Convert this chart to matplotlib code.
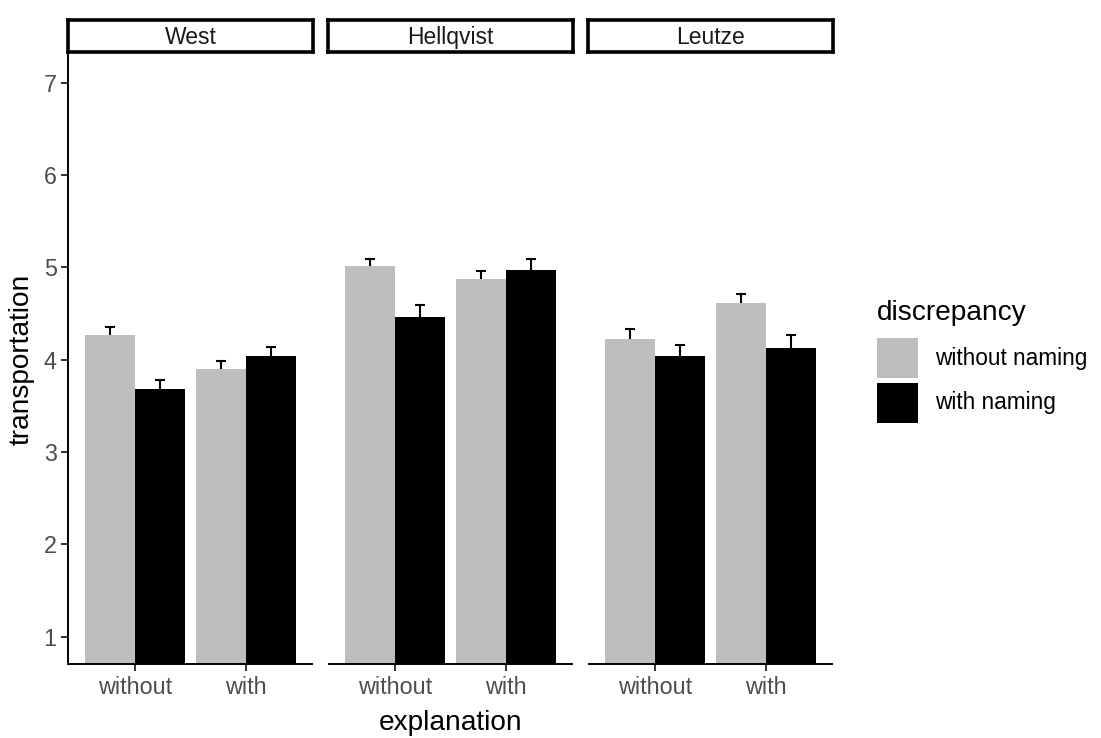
import matplotlib
matplotlib.use("Agg")
import matplotlib.pyplot as plt
from matplotlib.patches import Rectangle
import numpy as np

plt.rcParams['font.family'] = ['Liberation Sans', 'DejaVu Sans']

# ---- data ----
panels = ["West", "Hellqvist", "Leutze"]
explanation = ["without", "with"]
discrepancy = ["without naming", "with naming"]
fill_colors = ["#BEBEBE", "#000000"]

west_mean_without_naming = [4.27, 3.90]
west_mean_with_naming = [3.68, 4.04]
hellqvist_mean_without_naming = [5.02, 4.87]
hellqvist_mean_with_naming = [4.46, 4.97]
leutze_mean_without_naming = [4.23, 4.61]
leutze_mean_with_naming = [4.04, 4.13]

west_se_without_naming = [0.08, 0.09]
west_se_with_naming = [0.10, 0.10]
hellqvist_se_without_naming = [0.07, 0.09]
hellqvist_se_with_naming = [0.13, 0.12]
leutze_se_without_naming = [0.10, 0.10]
leutze_se_with_naming = [0.12, 0.14]

y_ticks = [1, 2, 3, 4, 5, 6, 7]

means = [
    [west_mean_without_naming, west_mean_with_naming],
    [hellqvist_mean_without_naming, hellqvist_mean_with_naming],
    [leutze_mean_without_naming, leutze_mean_with_naming],
]
ses = [
    [west_se_without_naming, west_se_with_naming],
    [hellqvist_se_without_naming, hellqvist_se_with_naming],
    [leutze_se_without_naming, leutze_se_with_naming],
]

# ---- layout helpers (pixel coords) ----
W, H = 1101, 738
fig = plt.figure(figsize=(W / 100, H / 100), dpi=100)


def fx(px):
    return px / W


def fy(py):
    return 1 - py / H


panel_lefts = [68, 328, 588]
panel_w = 245
panel_top = 55.3
panel_bot = 664.2
strip_top = 20
strip_bot = 52

tick_color = "#4D4D4D"
axis_lw = 1.4
tick_fs = 16.8
legend_fs = 16.3
title_fs = 20.2

bar_w = 0.45
cap_half = 0.045
x = np.arange(1, len(explanation) + 1)

for i, name in enumerate(panels):
    left = panel_lefts[i]
    ax = fig.add_axes([fx(left), fy(panel_bot), panel_w / W, (panel_bot - panel_top) / H])
    for j, disc in enumerate(discrepancy):
        xpos = x + (j - 0.5) * bar_w
        m = np.array(means[i][j])
        s = np.array(ses[i][j])
        ax.bar(xpos, m, width=bar_w, color=fill_colors[j], edgecolor='none', zorder=2)
        ax.vlines(xpos, m, m + s, color='black', lw=1.5, zorder=3)
        ax.hlines(m + s, xpos - cap_half, xpos + cap_half, color='black', lw=1.5, zorder=3)
    ax.set_xlim(0.4, 2.6)
    ax.set_ylim(0.7, 7.3)
    ax.set_xticks(x)
    ax.set_xticklabels(explanation)
    for sp in ['top', 'right']:
        ax.spines[sp].set_visible(False)
    ax.spines['bottom'].set_linewidth(axis_lw)
    ax.spines['bottom'].set_capstyle('butt')
    ax.tick_params(axis='x', length=5.2, width=axis_lw, color='#333333',
                   labelsize=tick_fs, labelcolor=tick_color, pad=3)
    if i == 0:
        ax.spines['left'].set_linewidth(axis_lw)
        ax.set_yticks(y_ticks)
        ax.set_yticklabels([str(t) for t in y_ticks])
        ax.tick_params(axis='y', length=5.2, width=axis_lw, color='#333333',
                       labelsize=tick_fs, labelcolor=tick_color, pad=3)
    else:
        ax.spines['left'].set_visible(False)
        ax.set_yticks([])
    ax.set_facecolor('white')

    # strip
    sax = fig.add_axes([fx(left), fy(strip_bot), panel_w / W, (strip_bot - strip_top) / H])
    sax.set_xticks([])
    sax.set_yticks([])
    for sp in sax.spines.values():
        sp.set_linewidth(2.6)
        sp.set_color('black')
    sax.text(0.5, 0.45, name, ha='center', va='center', fontsize=tick_fs - 0.3,
             color='#1A1A1A', transform=sax.transAxes)

# axis titles
fig.text(fx(22), fy((panel_top + panel_bot) / 2), "transportation", rotation=90,
         ha='center', va='center', fontsize=title_fs, color='black')
fig.text(fx((panel_lefts[0] + panel_lefts[-1] + panel_w) / 2), fy(730), "explanation",
         ha='center', va='baseline', fontsize=title_fs, color='black')

# legend
fig.text(fx(877), fy(313), "discrepancy", ha='left', va='center', fontsize=title_fs, color='black')
key_tops = [338, 383]
for j, disc in enumerate(discrepancy):
    kt = key_tops[j]
    fig.add_artist(Rectangle((fx(877), fy(kt + 40)), 41 / W, 40 / H,
                             transform=fig.transFigure, facecolor=fill_colors[j],
                             edgecolor='none'))
    fig.text(fx(935), fy(kt + 20), disc, ha='left', va='center', fontsize=legend_fs,
             color='black')

fig.savefig("out.png", dpi=100, facecolor='white')
